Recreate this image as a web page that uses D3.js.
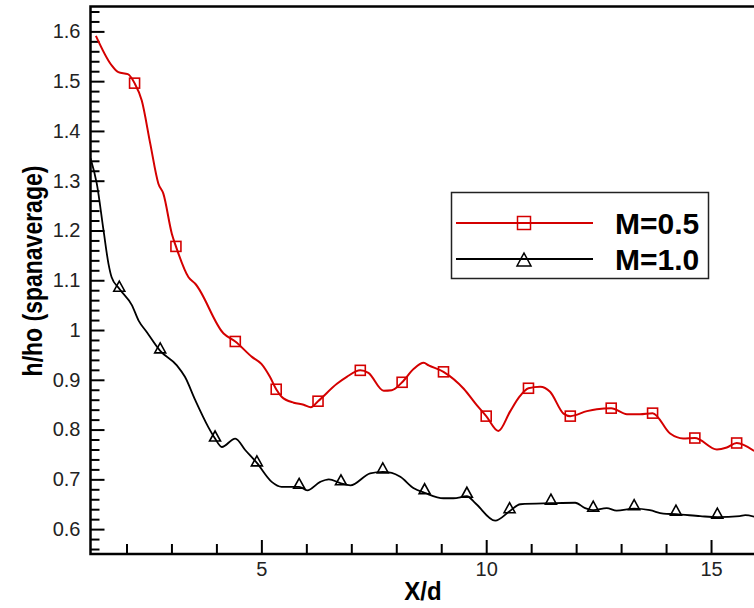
<!DOCTYPE html>
<html>
<head>
<meta charset="utf-8">
<script src="https://cdn.jsdelivr.net/npm/d3@7"></script>
<style>
  body { margin: 0; background: #fff; }
  svg { display: block; font-family: "Liberation Sans", Arial, Helvetica, sans-serif; }
</style>
</head>
<body>
<div id="chart"></div>
<script>
// h/ho span average vs X/d
var redX = [1.32,1.66,1.82,2.03,2.18,2.34,2.53,2.71,2.82,3.01,3.10,3.38,3.53,4.16,4.42,4.79,5.00,5.19,5.33,5.45,5.72,5.94,6.10,6.26,6.68,6.90,7.20,7.38,7.72,7.90,8.13,8.39,8.61,8.72,9.05,9.50,9.79,10.00,10.27,10.53,10.74,10.94,11.20,11.42,11.72,11.87,12.24,12.46,12.78,13.13,13.42,13.70,14.09,14.38,14.64,15.13,15.35,15.57,15.96];
var redY = [1.591,1.533,1.518,1.514,1.496,1.461,1.374,1.294,1.274,1.193,1.168,1.106,1.093,0.993,0.977,0.946,0.932,0.906,0.881,0.866,0.854,0.850,0.845,0.857,0.892,0.906,0.919,0.914,0.878,0.879,0.895,0.922,0.934,0.929,0.916,0.882,0.849,0.827,0.797,0.836,0.866,0.883,0.886,0.876,0.832,0.827,0.837,0.841,0.843,0.831,0.831,0.833,0.792,0.782,0.783,0.760,0.764,0.773,0.757];
var redMarkX = [2.18,3.10,4.42,5.33,6.26,7.20,8.13,9.05,10.00,10.94,11.87,12.78,13.70,14.64,15.57];
var redMarkY = [1.496,1.168,0.977,0.881,0.857,0.919,0.895,0.916,0.827,0.883,0.827,0.843,0.833,0.783,0.773];

var blackX = [1.20,1.34,1.49,1.60,1.67,1.84,2.12,2.27,2.45,2.75,3.12,3.30,3.53,3.82,3.97,4.12,4.42,4.64,4.90,5.23,5.45,5.84,6.02,6.31,6.50,6.77,6.98,7.42,7.70,7.90,8.09,8.39,8.63,9.05,9.27,9.57,9.76,10.20,10.52,10.76,11.44,11.98,12.20,12.38,12.68,12.90,13.29,13.64,13.94,14.22,14.76,15.14,15.64,15.76,15.96];
var blackY = [1.345,1.294,1.200,1.133,1.106,1.083,1.050,1.019,0.996,0.958,0.929,0.906,0.859,0.805,0.782,0.765,0.782,0.759,0.733,0.695,0.685,0.685,0.678,0.695,0.700,0.692,0.688,0.712,0.715,0.713,0.705,0.682,0.673,0.662,0.662,0.666,0.652,0.617,0.636,0.650,0.652,0.653,0.642,0.638,0.642,0.637,0.641,0.638,0.631,0.630,0.626,0.624,0.626,0.628,0.625];
var blackMarkX = [1.84,2.75,3.97,4.90,5.84,6.77,7.70,8.63,9.57,10.52,11.44,12.38,13.29,14.22,15.14];
var blackMarkY = [1.080,0.956,0.779,0.729,0.684,0.691,0.715,0.673,0.666,0.635,0.652,0.638,0.641,0.630,0.624];

var yMajor = [0.6,0.7,0.8,0.9,1.0,1.1,1.2,1.3,1.4,1.5,1.6];
var xMajor = [5,10,15];
var legendNames = ["M=0.5","M=1.0"];

var width = 754, height = 608;
var plotLeft = 90.5, plotTop = 6.5, plotRight = 756, plotBottom = 554;
var red = "#d40000";

var svg = d3.select("#chart").append("svg")
    .attr("width", width)
    .attr("height", height);

var x = d3.scaleLinear().domain([1.2, 16]).range([plotLeft, plotRight]);
var y = d3.scaleLinear().domain([0.55, 1.65]).range([plotBottom, plotTop]);

svg.append("clipPath").attr("id", "plotclip")
    .append("rect")
    .attr("x", plotLeft).attr("y", plotTop)
    .attr("width", plotRight - plotLeft).attr("height", plotBottom - plotTop);

// minor ticks
var xMinor = d3.range(2, 17, 1).filter(function(d){ return xMajor.indexOf(d) < 0; });
var yMinor = d3.range(0, 56).map(function(i){ return +(0.56 + i * 0.02).toFixed(2); })
    .filter(function(d){ return d <= 1.65 && Math.round(d * 100) % 10 !== 0; });

svg.append("g")
    .attr("transform", "translate(0," + plotBottom + ")")
    .call(d3.axisBottom(x).tickValues(xMinor).tickSize(-10).tickSizeOuter(0).tickFormat(""));
svg.append("g")
    .attr("transform", "translate(0," + plotBottom + ")")
    .call(d3.axisBottom(x).tickValues(xMajor).tickSize(-14).tickSizeOuter(0).tickPadding(8)
        .tickFormat(d3.format("d")));
svg.append("g")
    .attr("transform", "translate(" + plotLeft + ",0)")
    .call(d3.axisLeft(y).tickValues(yMinor).tickSize(-9).tickSizeOuter(0).tickFormat(""));
svg.append("g")
    .attr("transform", "translate(" + plotLeft + ",0)")
    .call(d3.axisLeft(y).tickValues(yMajor).tickSize(-14).tickSizeOuter(0).tickPadding(10)
        .tickFormat(function(d){ return d === 1 ? "1" : d3.format(".1f")(d); }));

svg.selectAll(".domain").remove();
svg.selectAll(".tick line").attr("stroke", "#000").attr("stroke-width", 2);
svg.selectAll(".tick text")
    .style("fill", "#222")
    .style("font-size", "20px")
    .style("font-family", "'Liberation Sans', Arial, sans-serif");

// frame
svg.append("path")
    .attr("d", "M" + plotRight + "," + plotTop + "H" + plotLeft + "V" + plotBottom + "H" + plotRight)
    .attr("fill", "none")
    .attr("stroke", "#000")
    .attr("stroke-width", 2.5);

// lines
var plot = svg.append("g").attr("clip-path", "url(#plotclip)");

var line = d3.line()
    .x(function(d){ return x(d[0]); })
    .y(function(d){ return y(d[1]); })
    .curve(d3.curveMonotoneX);

var redData = d3.zip(redX, redY);
var blackData = d3.zip(blackX, blackY);

plot.append("path").datum(blackData)
    .attr("d", line)
    .attr("fill", "none")
    .attr("stroke", "#000")
    .attr("stroke-width", 1.8);

plot.append("path").datum(redData)
    .attr("d", line)
    .attr("fill", "none")
    .attr("stroke", red)
    .attr("stroke-width", 2);

// markers
plot.selectAll("rect.sq")
    .data(d3.zip(redMarkX, redMarkY))
    .enter()
    .append("rect")
    .attr("class", "sq")
    .attr("x", function(d){ return x(d[0]) - 5; })
    .attr("y", function(d){ return y(d[1]) - 5; })
    .attr("width", 10)
    .attr("height", 10)
    .attr("fill", "none")
    .attr("stroke", red)
    .attr("stroke-width", 1.6);

function triPath(cx, by, w, h) {
    return "M" + (cx - w / 2) + "," + by + "L" + (cx + w / 2) + "," + by + "L" + cx + "," + (by - h) + "Z";
}

plot.selectAll("path.tri")
    .data(d3.zip(blackMarkX, blackMarkY))
    .enter()
    .append("path")
    .attr("class", "tri")
    .attr("d", function(d){ return triPath(x(d[0]), y(d[1]) + 1, 11, 10); })
    .attr("fill", "none")
    .attr("stroke", "#000")
    .attr("stroke-width", 1.6);

// axis titles
svg.append("text")
    .attr("transform", "translate(423,600) scale(1,1.1)")
    .attr("text-anchor", "middle")
    .attr("font-size", "24px")
    .attr("font-weight", "bold")
    .attr("fill", "#000")
    .text("X/d");

svg.append("text")
    .attr("transform", "translate(42,271) rotate(-90) scale(1,1.2)")
    .attr("text-anchor", "middle")
    .attr("font-size", "23px")
    .attr("font-weight", "bold")
    .attr("fill", "#000")
    .text("h/ho (spanaverage)");

// legend
var legend = svg.append("g");
legend.append("rect")
    .attr("x", 451.5).attr("y", 192.5)
    .attr("width", 257).attr("height", 86)
    .attr("fill", "#fff")
    .attr("stroke", "#222")
    .attr("stroke-width", 1.5);

var legendRows = [
    {name: legendNames[0], color: red, y: 223},
    {name: legendNames[1], color: "#000", y: 259}
];

legend.selectAll("line.leg")
    .data(legendRows)
    .enter()
    .append("line")
    .attr("x1", 456).attr("x2", 593)
    .attr("y1", function(d){ return d.y; })
    .attr("y2", function(d){ return d.y; })
    .attr("stroke", function(d){ return d.color; })
    .attr("stroke-width", 2);

legend.append("rect")
    .attr("x", 517.5).attr("y", 216.5)
    .attr("width", 13).attr("height", 13)
    .attr("fill", "none")
    .attr("stroke", red)
    .attr("stroke-width", 1.5);

legend.append("path")
    .attr("d", triPath(524, 266, 14, 13))
    .attr("fill", "none")
    .attr("stroke", "#000")
    .attr("stroke-width", 1.5);

legend.selectAll("text.leg")
    .data(legendRows)
    .enter()
    .append("text")
    .attr("x", 615)
    .attr("y", function(d){ return d.y + 11; })
    .attr("font-size", "30px")
    .attr("font-weight", "bold")
    .attr("fill", "#000")
    .text(function(d){ return d.name; });
</script>
</body>
</html>
